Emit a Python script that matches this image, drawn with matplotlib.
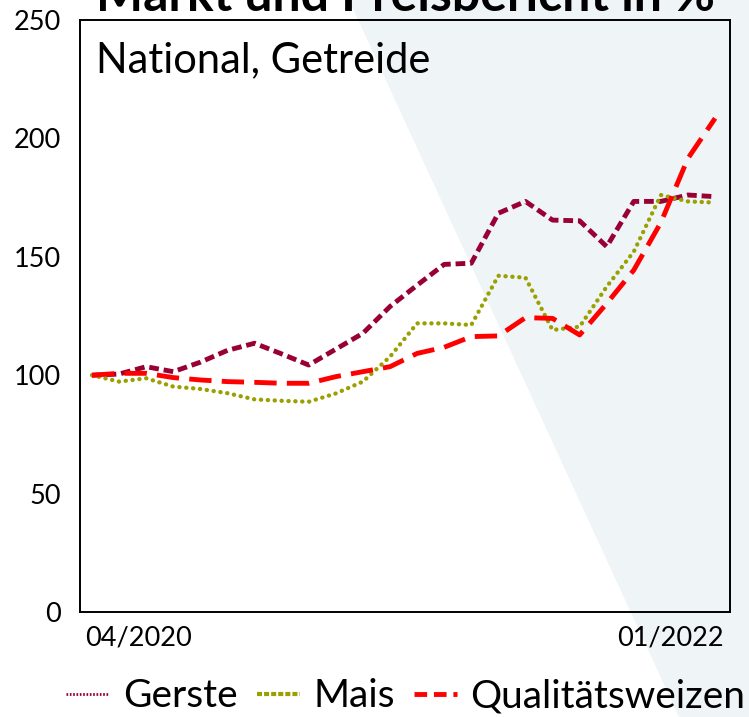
import numpy as np
import matplotlib.pyplot as plt
from matplotlib.patches import Polygon
from matplotlib.lines import Line2D

# Monatswerte 04/2020 - 03/2022, Index (04/2020 = 100)
monate = np.arange(24)
gerste = [100, 100.5, 103.6, 101.5, 105.5, 110.5, 113.5, 109, 104.3, 111, 117.7, 129,
          138, 146.8, 147.3, 168.4, 173.4, 165.5, 165.2, 154.3, 173.4, 173.4, 176.1, 175.4]
mais = [100, 97.3, 98.7, 95.2, 94.2, 92.4, 89.8, 89.2, 88.8, 92.3, 97.3, 107.8,
        121.9, 121.9, 121.2, 142, 141.2, 119.1, 120.5, 137.4, 152.2, 176.1, 173.4, 172.9]
weizen = [100, 100.8, 100.8, 99, 98, 97.3, 97, 96.6, 96.6, 99.4, 101.5, 103.6,
          109.2, 111.8, 116.3, 116.6, 124.3, 124, 117, 130.3, 144.4, 164.5, 191.6, 208.5]

x_labels = ["04/2020", "01/2022"]
y_ticks = [0, 50, 100, 150, 200, 250]

c_gerste = "#990033"
c_mais = "#99a000"
c_weizen = "#ff0000"

plt.rcParams['font.family'] = ['Lato', 'DejaVu Sans']

fig = plt.figure(figsize=(7.49, 7.17), dpi=100)

# heller Hintergrundkeil rechts
fig.patches.append(Polygon([(0.466, 1), (1, 1), (1, 0), (0.9065, 0)], closed=True,
                           transform=fig.transFigure, facecolor="#eff4f7",
                           edgecolor="none", zorder=-5))

ax = fig.add_axes([0.1068, 0.1464, 0.8678, 0.8257])
ax.set_facecolor("none")
ax.set_zorder(2)

lw = 3.5
ax.plot(monate, gerste, color=c_gerste, lw=lw, dashes=(2.0, 1.0))
ax.plot(monate, mais, color=c_mais, lw=3.1, dashes=(0.05, 1.55), dash_capstyle="round")
ax.plot(monate, weizen, color=c_weizen, lw=lw, dashes=(4.6, 2.1))

ax.set_xlim(-0.443, 23.55)
ax.set_ylim(0, 250)
ax.set_yticks(y_ticks)
ax.set_xticks([1.73, 21.34])
ax.set_xticklabels(x_labels)
ax.tick_params(axis="y", length=0, pad=14, labelsize=19.5)
ax.tick_params(axis="x", length=0, pad=10, labelsize=19.5)
for s in ax.spines.values():
    s.set_linewidth(1.4)

ax.text(0.025, 0.965, "National, Getreide", transform=ax.transAxes, fontsize=30,
        va="top", ha="left")

fig.text(0.541, 0.985, "Markt und Preisbericht in %", fontsize=36, fontweight="bold",
         ha="center", va="baseline", zorder=3)

# Legendensymbole wie im Original (kurz)
h1 = Line2D([], [], color=c_gerste, lw=2.0, dashes=(0.6, 0.6))
h2 = Line2D([], [], color=c_mais, lw=3.0, dashes=(1.2, 0.5))
h3 = Line2D([], [], color=c_weizen, lw=3.5, dashes=(2.6, 1.4))
leg = fig.legend(handles=[h1, h2, h3], labels=["Gerste", "Mais", "Qualitätsweizen"],
                 loc="lower center", bbox_to_anchor=(0.542, -0.045), ncol=3, frameon=False,
                 fontsize=28, handlelength=1.1, handletextpad=0.35, columnspacing=0.5)
leg.set_zorder(3)

fig.savefig("out.png", dpi=100)
